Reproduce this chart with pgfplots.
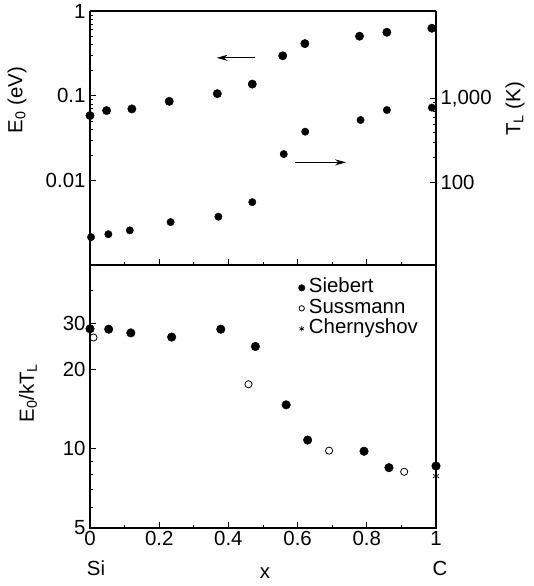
\documentclass[border=0pt]{standalone}
\usepackage{pgfplots}
\pgfplotsset{compat=1.18}
\usepackage{fontspec}
\setmainfont{Liberation Sans}
\usetikzlibrary{arrows.meta}
\newcommand\bigf{\fontsize{20.5}{24}\selectfont}
\begin{document}
\begin{tikzpicture}[font=\bigf]
\useasboundingbox (-90bp,-321bp) rectangle (444bp,265bp);
\pgfplotsset{
  every axis/.append style={
    scale only axis, width=346bp, xmin=0, xmax=1,
    axis line style={line width=1.1bp},
    major tick length=6bp, minor tick length=3bp,
    every tick/.style={line width=0.8bp, black},
    every minor tick/.style={line width=0.6bp, black},
    tick label style={font=\bigf},
    clip=false,
  }
}
% ---------- top panel, left axis ----------
\begin{axis}[
  at={(0bp,0bp)}, anchor=south west, height=254bp,
  ymode=log, ymin=0.001, ymax=1,
  axis y line*=left, axis x line*=bottom,
  xtick={0,0.2,0.4,0.6,0.8,1}, minor xtick={0.1,0.3,0.5,0.7,0.9},
  xticklabels={},
  ytick={0.01,0.1,1}, yticklabels={0.01,0.1,1},
  yticklabel style={xshift=-1bp},
]
\addplot[only marks, mark=*, mark size=4.2bp, black] coordinates {
(0,0.0582) (0.048,0.0667) (0.121,0.0698) (0.229,0.0857) (0.368,0.1056)
(0.469,0.137) (0.557,0.296) (0.621,0.412) (0.779,0.504) (0.858,0.561) (0.988,0.626)};
\draw[line width=1bp, -{Stealth[length=11bp,width=6bp]}] (axis cs:0.477,0.28) -- (axis cs:0.366,0.28);
\draw[line width=1bp, -{Stealth[length=11bp,width=6bp]}] (axis cs:0.592,0.0163) -- (axis cs:0.740,0.0163);
\end{axis}
% top box line
\draw[line width=1.1bp] (0bp,254bp) -- (346bp,254bp);
% ---------- top panel, right axis ----------
\begin{axis}[
  at={(0bp,0bp)}, anchor=south west, height=254bp,
  ymode=log, ymin=10.5, ymax=11000,
  axis y line*=right, axis x line=none,
  ytick={100,1000}, yticklabels={100,{1,000}},
  yticklabel style={xshift=1bp},
]
\addplot[only marks, mark=*, mark size=3.7bp, black] coordinates {
(0.003,22.5) (0.053,24.4) (0.115,27.1) (0.233,34.0) (0.371,39.4)
(0.469,58.7) (0.560,219) (0.622,404) (0.782,556) (0.858,731) (0.988,781)};
\end{axis}
% ---------- bottom panel ----------
\begin{axis}[
  at={(0bp,0bp)}, anchor=north west, height=263bp,
  ymode=log, ymin=5, ymax=50,
  xtick={0,0.2,0.4,0.6,0.8,1}, minor xtick={0.1,0.3,0.5,0.7,0.9},
  xticklabels={0,0.2,0.4,0.6,0.8,1},
  xtick pos=bottom, ytick pos=left,
  ytick={5,10,20,30}, yticklabels={5,10,20,30},
  minor ytick={6,7,8,9,40},
  yticklabel style={xshift=-1bp},
  legend style={at={(rel axis cs:0.602,0.952)}, anchor=north west, draw=none, fill=none,
    font=\bigf, row sep=0.5bp, inner sep=0pt,
    nodes={inner sep=1bp, text height=14bp, text depth=4bp},
    /tikz/every odd column/.append style={column sep=3bp}},
  legend cell align=left,
  legend image code/.code={\draw[#1, scale=0.75] plot coordinates {(0.3cm,0cm)};},
]
\addplot[only marks, mark=*, mark size=4.3bp, black] coordinates {
(0,28.6) (0.054,28.5) (0.118,27.6) (0.236,26.6) (0.378,28.5) (0.478,24.5)
(0.567,14.7) (0.629,10.8) (0.792,9.79) (0.864,8.48) (1.0,8.60)};
\addlegendentry{Siebert}
\addplot[only marks, mark=o, mark size=3.6bp, black, line width=0.8bp] coordinates {
(0.01,26.5) (0.458,17.6) (0.691,9.84) (0.908,8.18)};
\addlegendentry{Sussmann}
\addplot[only marks, mark=asterisk, mark size=3.5bp, black, line width=0.7bp] coordinates {
(1.0,7.88)};
\addlegendentry{Chernyshov}
\end{axis}
% labels
\node[rotate=90] at (-73bp,165bp) {E\textsubscript{0} (eV)};
\node[rotate=90] at (425bp,156bp) {T\textsubscript{L} (K)};
\node[rotate=90] at (-62bp,-128bp) {E\textsubscript{0}/kT\textsubscript{L}};
\node at (6bp,-303bp) {Si};
\node at (175bp,-308bp) {x};
\node at (350bp,-303bp) {C};
\end{tikzpicture}
\end{document}
